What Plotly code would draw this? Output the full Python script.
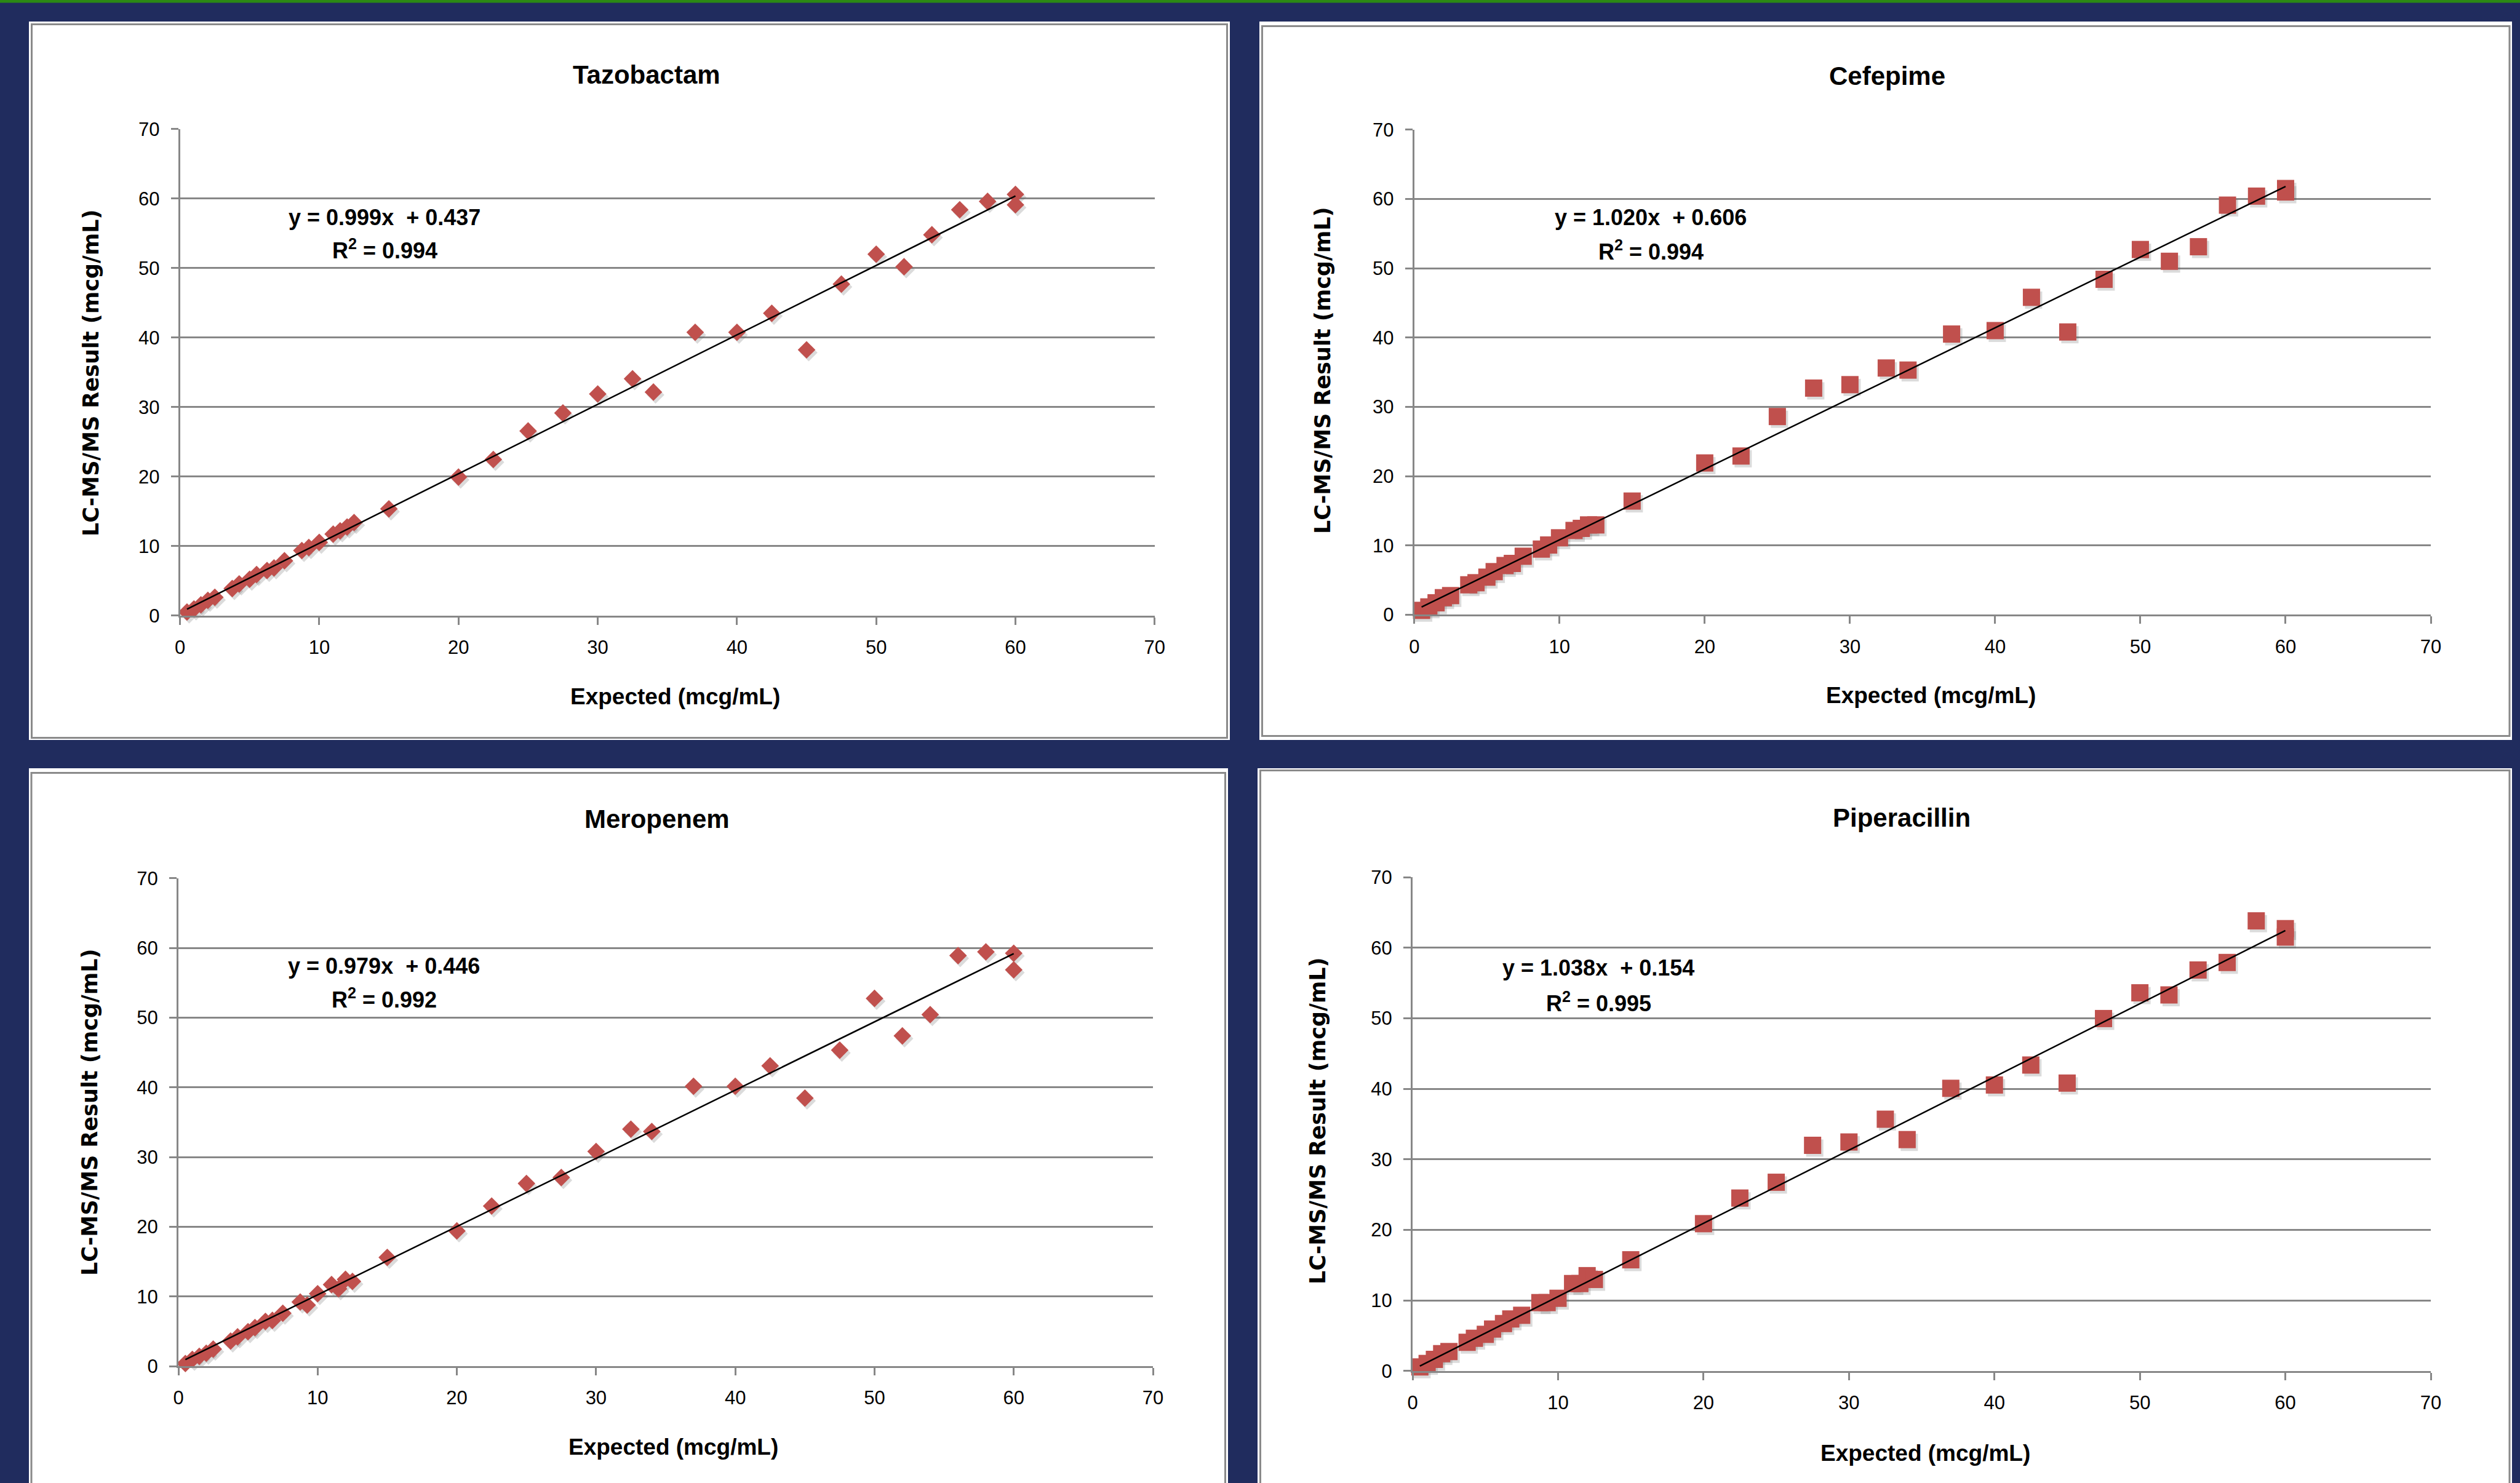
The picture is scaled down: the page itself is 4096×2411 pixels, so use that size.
import plotly.graph_objects as go

W, H = 4096, 2411

# ---------------- data ----------------
x_expected = [0.5, 1, 1.5, 2, 2.5, 3.75, 4.25, 5, 5.5, 6.25, 6.75, 7.5, 8.75, 9.25, 10,
              11, 11.5, 12, 12.5, 15, 20, 22.5, 25, 27.5, 30, 32.5, 34, 37, 40, 42.5,
              45, 47.5, 50, 52, 54, 56, 58, 60, 60]

y_tazobactam = [0.52, 0.96, 1.56, 2.2, 2.65, 3.9, 4.56, 5.24, 5.92, 6.5, 6.87, 7.9, 9.37, 9.8, 10.55,
                11.73, 12.2, 12.76, 13.4, 15.36, 19.94, 22.47, 26.57, 29.16, 31.9, 34.08, 32.17,
                40.77, 40.77, 43.5, 38.25, 47.7, 52.0, 50.2, 54.8, 58.4, 59.6, 60.6, 59.1]

y_cefepime = [0.63, 1.13, 1.72, 2.46, 2.76, 4.32, 4.62, 5.42, 6.22, 7.1, 7.4, 8.44, 9.47, 10.06, 11.1,
              12.16, 12.46, 12.96, 12.96, 16.4, 21.9, 22.9, 28.6, 32.7, 33.2, 35.6, 35.3,
              40.5, 41.0, 45.8, 40.8, 48.4, 52.7, 51.0, 53.1, 59.1, 60.4, 61.5, 61.0]

y_meropenem = [0.38, 0.97, 1.41, 1.85, 2.44, 3.6, 4.2, 4.94, 5.53, 6.41, 6.56, 7.59, 9.2, 8.76, 10.39,
               11.7, 11.1, 12.45, 12.15, 15.6, 19.4, 22.97, 26.2, 27.06, 30.8, 34.0, 33.67,
               40.15, 40.15, 43.08, 38.45, 45.33, 52.76, 47.38, 50.44, 58.9, 59.44, 59.24, 56.85]

y_piperacillin = [0.56, 1.05, 1.63, 2.44, 2.74, 4.05, 4.62, 5.18, 5.93, 6.71, 7.36, 7.88, 9.68, 9.68, 10.29,
                  12.38, 12.38, 13.5, 12.96, 15.75, 20.87, 24.5, 26.74, 31.98, 32.45, 35.68, 32.79,
                  40.06, 40.53, 43.36, 40.8, 49.95, 53.6, 53.3, 56.83, 57.9, 63.8, 62.7, 61.5]

titles = ["Tazobactam", "Cefepime", "Meropenem", "Piperacillin"]
slopes = [0.999, 1.020, 0.979, 1.038]
intercepts = [0.437, 0.606, 0.446, 0.154]
r_squared = ["0.994", "0.994", "0.992", "0.995"]
series = [y_tazobactam, y_cefepime, y_meropenem, y_piperacillin]
symbols = ["diamond", "square", "diamond", "square"]

tick_vals = [0, 10, 20, 30, 40, 50, 60, 70]
x_label = "Expected (mcg/mL)"
y_label = "LC-MS/MS Result (mcg/mL)"

# ---------------- layout geometry (pixels) ----------------
plots = [  # x0, x1, ytop, ybottom
    (292.6, 1876.8, 209.9, 1000.9),
    (2298.8, 3951.0, 210.7, 999.4),
    (290.0, 1874.0, 1427.8, 2221.0),
    (2296.0, 3951.0, 1426.0, 2228.7),
]
panels_white = [(47, 1999, 35, 1203), (2047, 4083, 35, 1203),
                (47, 1996, 1249, 2420), (2044, 4083, 1249, 2420)]
panels_border = [(51.5, 1994.5, 39.5, 1199.5), (2051.5, 4079, 42.5, 1196.5),
                 (51, 1991.5, 1256.5, 2430), (2048.5, 4079, 1252.5, 2430)]
title_pos = [(1051, 121), (3067, 123), (1068, 1331), (3091, 1329)]
xtitle_pos = [(1097, 1133), (3138, 1130), (1094, 2352), (3129, 2362)]
ytitle_pos = [(148, 606), (2150, 602), (146, 1808), (2142, 1822)]
eq_pos = [(625, 353, 405), (2683, 353, 407), (624, 1571, 1623), (2598, 1573, 1629)]

NAVY = "#202C5E"
RED = "#C0504D"
GRID = "#878787"
FONT = "Liberation Sans, Arial, sans-serif"

def px(x):
    return x / W

def py(y):
    return 1 - y / H

fig = go.Figure()
shapes = []
annotations = []

# background elements
shapes.append(dict(type="rect", xref="paper", yref="paper", x0=0, x1=1, y0=py(4.5), y1=1,
                   fillcolor="#2B8A14", line=dict(width=0), layer="below"))
for (a, b, c, d) in panels_white:
    shapes.append(dict(type="rect", xref="paper", yref="paper", x0=px(a), x1=px(b), y0=py(d), y1=py(c),
                       fillcolor="white", line=dict(width=0), layer="below"))
for (a, b, c, d) in panels_border:
    shapes.append(dict(type="rect", xref="paper", yref="paper", x0=px(a), x1=px(b), y0=py(d), y1=py(c),
                       fillcolor="rgba(0,0,0,0)", line=dict(width=3, color="#8A8A8A"), layer="below"))

for i in range(4):
    n = "" if i == 0 else str(i + 1)
    xa, ya = "x" + n, "y" + n
    x0, x1, yt, yb = plots[i]
    xpu = (x1 - x0) / 70.0
    ypu = (yb - yt) / 70.0
    common = dict(range=[0, 70], tickvals=tick_vals, ticks="outside", ticklen=12, tickwidth=3,
                  tickcolor=GRID, showline=True, linecolor=GRID, linewidth=3, zeroline=False,
                  automargin=False, tickfont=dict(family=FONT, size=31, color="black"), fixedrange=True)
    fig.update_layout(**{
        "xaxis" + n: dict(domain=[px(x0), px(x1)], anchor=ya, showgrid=False,
                          ticklabelstandoff=10, **common),
        "yaxis" + n: dict(domain=[py(yb), py(yt)], anchor=xa, showgrid=True, gridcolor=GRID,
                          gridwidth=3, ticklabelstandoff=12, **common),
    })
    ys = series[i]
    msize = 22 if symbols[i] == "diamond" else 28
    # soft drop shadow
    fig.add_trace(go.Scatter(
        x=[v + 3.5 / xpu for v in x_expected], y=[v - 4.5 / ypu for v in ys], mode="markers",
        xaxis=xa, yaxis=ya, hoverinfo="skip", showlegend=False, cliponaxis=False,
        marker=dict(symbol=symbols[i], size=msize, color="rgba(90,90,90,0.22)", line=dict(width=0))))
    fig.add_trace(go.Scatter(
        x=x_expected, y=ys, mode="markers", xaxis=xa, yaxis=ya, showlegend=False, cliponaxis=False,
        marker=dict(symbol=symbols[i], size=msize, color=RED, line=dict(width=0))))
    xmin, xmax = min(x_expected), max(x_expected)
    fig.add_trace(go.Scatter(
        x=[xmin, xmax], y=[slopes[i] * xmin + intercepts[i], slopes[i] * xmax + intercepts[i]],
        mode="lines", xaxis=xa, yaxis=ya, showlegend=False, hoverinfo="skip",
        line=dict(color="black", width=2.5)))

    tx, ty = title_pos[i]
    annotations.append(dict(text="<b>%s</b>" % titles[i], x=px(tx), y=py(ty), xref="paper", yref="paper",
                            showarrow=False, xanchor="center", yanchor="middle",
                            font=dict(family=FONT, size=42, color="black")))
    tx, ty = xtitle_pos[i]
    annotations.append(dict(text="<b>%s</b>" % x_label, x=px(tx), y=py(ty), xref="paper", yref="paper",
                            showarrow=False, xanchor="center", yanchor="middle",
                            font=dict(family=FONT, size=37, color="black")))
    tx, ty = ytitle_pos[i]
    annotations.append(dict(text="<b>%s</b>" % y_label, x=px(tx), y=py(ty), xref="paper", yref="paper",
                            showarrow=False, xanchor="center", yanchor="middle", textangle=-90,
                            font=dict(family="DejaVu Sans, Verdana, sans-serif", size=35, color="black")))
    ex, ey1, ey2 = eq_pos[i]
    annotations.append(dict(text="<b>y = %.3fx  + %.3f</b>" % (slopes[i], intercepts[i]),
                            x=px(ex), y=py(ey1), xref="paper", yref="paper",
                            showarrow=False, xanchor="center", yanchor="middle",
                            font=dict(family=FONT, size=36, color="black")))
    annotations.append(dict(text="<b>R<sup>2</sup> = %s</b>" % r_squared[i],
                            x=px(ex), y=py(ey2), xref="paper", yref="paper",
                            showarrow=False, xanchor="center", yanchor="middle",
                            font=dict(family=FONT, size=36, color="black")))

fig.update_layout(width=W, height=H,
                  margin=dict(l=0, r=0, t=0, b=0, pad=0, autoexpand=False),
                  paper_bgcolor=NAVY, plot_bgcolor="white", showlegend=False,
                  shapes=shapes, annotations=annotations)

post = ("document.documentElement.style.margin='0';document.documentElement.style.padding='0';"
        "document.documentElement.style.overflow='hidden';"
        "document.body.style.margin='0';document.body.style.padding='0';document.body.style.overflow='hidden';"
        "var gd=document.getElementById('{plot_id}');"
        "gd.style.position='fixed';gd.style.left='0px';gd.style.top='0px';")

fig.write_html("out.html", config={"displayModeBar": False}, post_script=post)
